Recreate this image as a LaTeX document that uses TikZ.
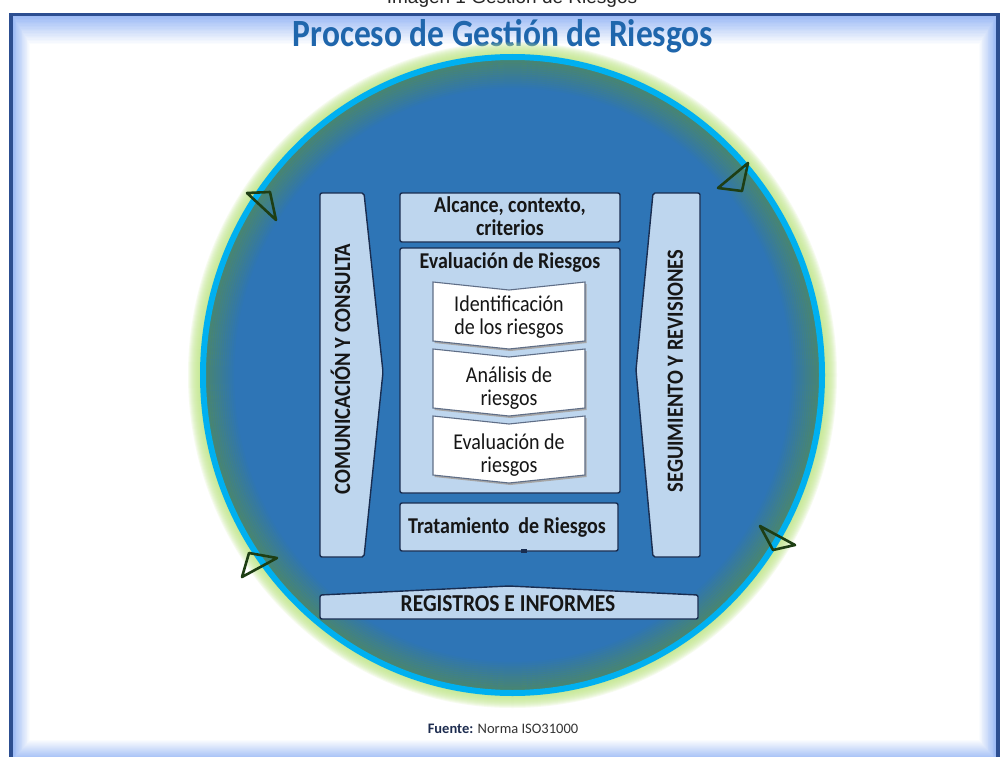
\documentclass[tikz,border=0pt]{standalone}
\usepackage{fontspec}
\setmainfont{Carlito}
\newfontfamily\arialf{Liberation Sans}
\definecolor{framedark}{RGB}{44,78,145}
\definecolor{framelight}{RGB}{157,187,245}
\definecolor{circblue}{RGB}{46,117,182}
\definecolor{ringcyan}{RGB}{0,176,240}
\definecolor{glowgreen}{RGB}{195,232,140}
\definecolor{innergreen}{RGB}{90,145,70}
\definecolor{boxfill}{RGB}{190,214,238}
\definecolor{boxline}{RGB}{25,45,80}
\definecolor{titleblue}{RGB}{31,102,172}
\definecolor{txt}{RGB}{22,22,22}
\definecolor{arrowgreen}{RGB}{30,62,20}
\definecolor{chevline}{RGB}{95,110,135}
\definecolor{srcnavy}{RGB}{30,45,80}
\newcommand\stretchtxt[1]{\scalebox{1}[1.13]{\begin{tabular}{@{}c@{}}#1\end{tabular}}}
\begin{document}
\begin{tikzpicture}[x=1pt,y=-1pt,
 boxshape/.style={fill=boxfill,draw=boxline,line width=1.4pt,rounded corners=2pt},
 chevshape/.style={fill=white,draw=chevline,line width=1.1pt},
 boldtxt/.style={font=\fontsize{20}{20.5}\selectfont\bfseries,text=txt,inner sep=0pt},
 regtxt/.style={font=\fontsize{20}{20.5}\selectfont,text=txt,inner sep=0pt},
 cyclearrow/.style={draw=arrowgreen,line width=2.6pt,line join=round}]
\useasboundingbox (0,0) rectangle (1004,757);
\fill[white] (0,0) rectangle (1004,757);
% frame
\fill[framedark] (9,13) rectangle (1000,770);
\foreach \i in {0,...,20}{
  \pgfmathtruncatemacro\pc{100-5*\i}
  \fill[framelight!\pc!white] ({13+0.85*\i},{16+1.4*\i}) rectangle ({996-0.85*\i},{760-1.0*\i});
}
% caption (cut at top)
\node[font=\arialf\fontsize{19}{19}\selectfont,anchor=base,text=black!85,inner sep=0pt] (cap) at (512,4) {Imagen 1 Gestión de Riesgos};
% title
\node[font=\fontsize{33.5}{36}\selectfont\bfseries,text=titleblue,anchor=base,inner sep=0pt] (title) at (503,47) {\scalebox{1}[1.15]{Proceso de Gestión de Riesgos}};
% circle
\def\cx{512.5}\def\cy{375}\def\rx{309.5}\def\ry{318}
\foreach \i in {1,...,14}{
  \fill[glowgreen,opacity=0.14] (\cx,\cy) ellipse [x radius={\rx+16-\i}, y radius={\ry+16-\i}];
}
\fill[circblue] (\cx,\cy) ellipse [x radius=\rx, y radius=\ry];
\foreach \i in {0,...,14}{
  \pgfmathsetmacro\op{0.6*(1-\i/15)}
  \draw[innergreen,opacity=\op,line width=2.2pt] (\cx,\cy) ellipse [x radius={\rx-2-2*\i}, y radius={\ry-2-2*\i}];
}
\draw[ringcyan,line width=6pt] (\cx,\cy) ellipse [x radius=\rx, y radius=\ry];
% cycle arrowheads
\draw[cyclearrow] (247,193) -- (270,192) -- (276,220) -- cycle;
\draw[cyclearrow] (748,163) -- (718,188) -- (742,191) -- cycle;
\draw[cyclearrow] (760,526) -- (795,545) -- (773,550) -- cycle;
\draw[cyclearrow] (242,577) -- (277,558) -- (249,553) -- cycle;
% side boxes
\draw[boxshape] (320,193) -- (364,193) -- (383,372) -- (364,557) -- (320,557) -- cycle;
\draw[boxshape] (653,193) -- (700,193) -- (700,557) -- (653,557) -- (636,370) -- cycle;
% center boxes
\draw[boxshape] (400,193) rectangle (620,242);
\draw[boxshape] (400,248) rectangle (620,493);
\draw[boxshape] (400,503) rectangle (618,551);
\fill[boxline] (521,549) rectangle (527,552.5);
\draw[boxshape] (320,595) -- (509,586) -- (698,595) -- (698,619) -- (320,619) -- cycle;
% chevrons
\foreach \t in {282,349,416}{
  \fill[black!35] ({433+1.5},{\t+2}) -- ({509+1.5},{\t+10}) -- ({585+1.5},{\t+2}) -- ({585+1.5},{\t+61}) -- ({509+1.5},{\t+69}) -- ({433+1.5},{\t+61}) -- cycle;
  \draw[chevshape] (433,\t) -- (509,{\t+8}) -- (585,\t) -- (585,{\t+59}) -- (509,{\t+67}) -- (433,{\t+59}) -- cycle;
}
% texts
\node[boldtxt] (alc) at (510,219) {\stretchtxt{Alcance, contexto,\\criterios}};
\node[boldtxt] (evr) at (510,264) {\stretchtxt{Evaluación de Riesgos}};
\node[regtxt] (ide) at (509,318) {\stretchtxt{Identificación\\de los riesgos}};
\node[regtxt] (ana) at (509,389) {\stretchtxt{Análisis de\\riesgos}};
\node[regtxt] (eva) at (509,456) {\stretchtxt{Evaluación de\\riesgos}};
\node[boldtxt] (tra) at (507,529) {\stretchtxt{Tratamiento\hspace{0.45em}de Riesgos}};
\node[boldtxt,font=\fontsize{21.5}{22}\selectfont\bfseries] (reg) at (508,607) {\stretchtxt{REGISTROS E INFORMES}};
\node[boldtxt,font=\fontsize{20.5}{22}\selectfont\bfseries,rotate=90] (com) at (344,369) {\stretchtxt{COMUNICACIÓN Y CONSULTA}};
\node[boldtxt,font=\fontsize{20.5}{22}\selectfont\bfseries,rotate=90] (seg) at (678,371) {\stretchtxt{SEGUIMIENTO Y REVISIONES}};
\node[font=\fontsize{14.5}{16}\selectfont,anchor=base,text=black!80,inner sep=0pt] (src) at (503,733) {\textbf{\color{srcnavy}Fuente:} Norma ISO31000};
\end{tikzpicture}
\end{document}
